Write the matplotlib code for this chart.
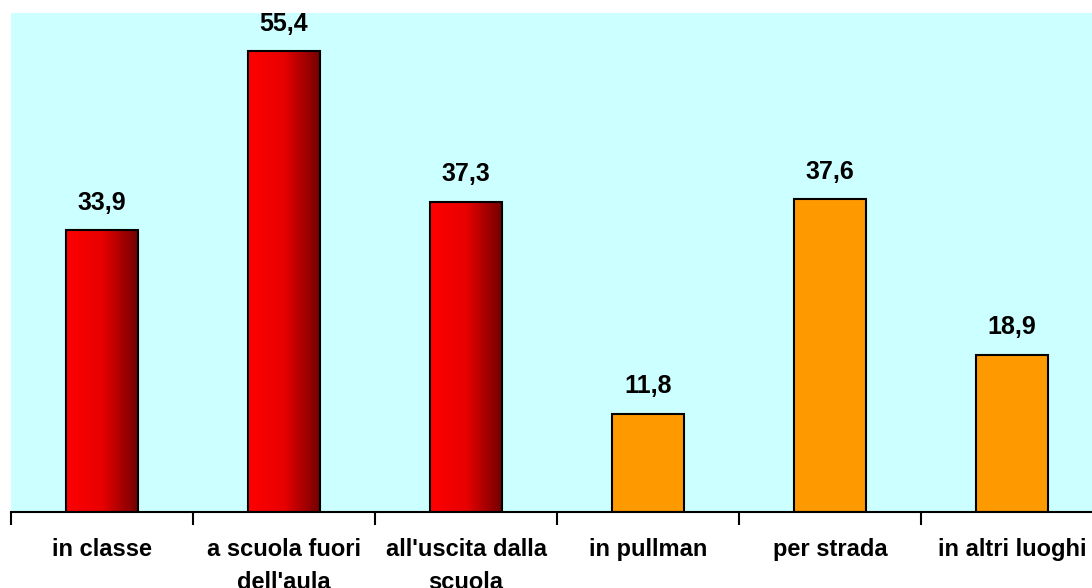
import matplotlib
matplotlib.use("Agg")
import matplotlib.pyplot as plt
import numpy as np
from matplotlib.colors import LinearSegmentedColormap

categories = ["in classe", "a scuola fuori\ndell'aula", "all'uscita dalla\nscuola",
              "in pullman", "per strada", "in altri luoghi"]
values = [33.9, 55.4, 37.3, 11.8, 37.6, 18.9]
labels = ["33,9", "55,4", "37,3", "11,8", "37,6", "18,9"]
gradient_flags = [True, True, True, False, False, False]

plt.rcParams['font.family'] = ['Liberation Sans', 'DejaVu Sans']

W, H = 1092, 588
fig = plt.figure(figsize=(W / 100, H / 100), dpi=100)
ax = fig.add_axes([11 / W, (H - 512) / H, 1092 / W, (512 - 13) / H])
ax.set_facecolor('#CCFFFF')

x = np.arange(len(values))
bw = 0.40
bars = ax.bar(x, values, width=bw, color='#FF9900', edgecolor='black', linewidth=1.5, zorder=3)

red_cmap = LinearSegmentedColormap.from_list('redgrad', ['#FF0000', '#E80000', '#700000'])
grad = np.linspace(0, 1, 256).reshape(1, -1)
for b, g in zip(bars, gradient_flags):
    if g:
        b.set_facecolor('none')
        x0, y0 = b.get_x(), b.get_y()
        w, h = b.get_width(), b.get_height()
        im = ax.imshow(grad, cmap=red_cmap, aspect='auto', extent=[x0, x0 + w, y0, y0 + h],
                       zorder=2, interpolation='bicubic')
        im.set_clip_path(b)

for xi, v, lab in zip(x, values, labels):
    ax.text(xi, v + 3.3, lab, ha='center', va='center', fontsize=18, fontweight='bold', zorder=4)

ax.set_xlim(-0.5, len(values) - 0.5)
ax.set_ylim(0, 60)
ax.set_yticks([])
for s in ['top', 'right', 'left']:
    ax.spines[s].set_visible(False)
ax.spines['bottom'].set_linewidth(1.5)
ax.spines['bottom'].set_zorder(5)

ax.set_xticks(np.arange(-0.5, len(values), 1.0))
ax.set_xticklabels([])
ax.tick_params(axis='x', length=9, width=1.5, direction='out')
ax.set_xticks(x, minor=True)
ax.set_xticklabels(categories, minor=True, fontsize=17, fontweight='bold', linespacing=1.55)
ax.tick_params(axis='x', which='minor', length=0, pad=18.5)

fig.savefig('out.png', dpi=100)
